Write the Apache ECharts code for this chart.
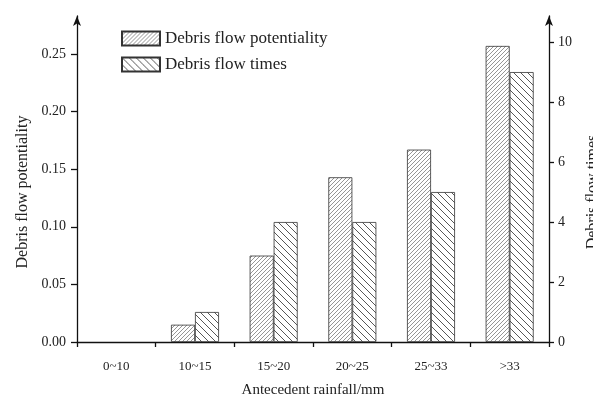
<!DOCTYPE html>
<html>
<head>
<meta charset="utf-8">
<script src="https://cdn.jsdelivr.net/npm/echarts@6/dist/echarts.min.js"></script>
<style>
  html, body { margin: 0; padding: 0; background: #fff; }
  #chart { width: 593px; height: 396px; }
</style>
</head>
<body>
<div id="chart"></div>
<script>
const categories = ['0~10', '10~15', '15~20', '20~25', '25~33', '>33'];
const potentiality = [0, 0.015, 0.075, 0.143, 0.167, 0.257];
const times = [0, 1, 4, 4, 5, 9];
const leftTicks = [0, 0.05, 0.10, 0.15, 0.20, 0.25];
const rightTicks = [0, 2, 4, 6, 8, 10];

function hatch(size, dir, color, width) {
  const c = document.createElement('canvas');
  c.width = size;
  c.height = size;
  const ctx = c.getContext('2d');
  ctx.fillStyle = '#fff';
  ctx.fillRect(0, 0, size, size);
  ctx.strokeStyle = color;
  ctx.lineWidth = width;
  ctx.beginPath();
  for (let k = -1; k <= 1; k++) {
    if (dir === '/') {
      ctx.moveTo(k * size, size);
      ctx.lineTo(k * size + size, 0);
    } else {
      ctx.moveTo(k * size, 0);
      ctx.lineTo(k * size + size, size);
    }
  }
  ctx.stroke();
  return c;
}

// zero-height bars have no visible outline in the original
const noEmpty = arr => arr.map(v => (v === 0 ? { value: v, itemStyle: { borderWidth: 0 } } : v));

const chart = echarts.init(document.getElementById('chart'));
const serif = 'Liberation Serif';
const ink = '#222';

const option = {
  animation: false,
  textStyle: { fontFamily: serif, color: ink },
  grid: { left: 77, right: 44, top: 16, bottom: 54, outerBoundsMode: 'none' },
  legend: {
    left: 121,
    top: 30,
    padding: 0,
    orient: 'vertical',
    icon: 'rect',
    itemWidth: 38,
    itemHeight: 14,
    itemGap: 9,
    textStyle: { fontFamily: serif, fontSize: 17, color: ink },
    data: ['Debris flow potentiality', 'Debris flow times']
  },
  xAxis: {
    type: 'category',
    data: categories,
    name: 'Antecedent rainfall/mm',
    nameLocation: 'middle',
    nameGap: 41,
    nameTextStyle: { fontFamily: serif, fontSize: 15, color: ink },
    axisLine: { lineStyle: { color: '#111', width: 1.3 } },
    axisTick: { show: true, length: 5, lineStyle: { color: '#111', width: 1.3 } },
    axisLabel: { fontFamily: serif, fontSize: 13, color: ink, margin: 18 }
  },
  yAxis: [
    {
      type: 'value',
      min: 0,
      max: 0.283,
      name: 'Debris flow potentiality',
      nameLocation: 'middle',
      nameGap: 45,
      nameTextStyle: { fontFamily: serif, fontSize: 16, color: ink, padding: [0, 26, 0, 0] },
      splitLine: { show: false },
      axisLine: {
        show: true,
        symbol: ['none', 'arrow'],
        symbolSize: [6, 10],
        lineStyle: { color: '#111', width: 1.3 }
      },
      axisTick: { show: true, length: 6, customValues: leftTicks, lineStyle: { color: '#111', width: 1.3 } },
      axisLabel: {
        fontFamily: serif, fontSize: 14, color: ink, margin: 11,
        customValues: leftTicks,
        formatter: v => v.toFixed(2)
      }
    },
    {
      type: 'value',
      min: 0,
      max: 10.87,
      position: 'right',
      name: 'Debris flow times',
      nameLocation: 'middle',
      nameGap: 36,
      nameTextStyle: { fontFamily: serif, fontSize: 16, color: ink, padding: [0, 26, 0, 0] },
      nameRotate: 90,
      splitLine: { show: false },
      axisLine: {
        show: true,
        symbol: ['none', 'arrow'],
        symbolSize: [6, 10],
        lineStyle: { color: '#111', width: 1.3 }
      },
      axisTick: { show: true, length: 5, customValues: rightTicks, lineStyle: { color: '#111', width: 1.3 } },
      axisLabel: { fontFamily: serif, fontSize: 14, color: ink, margin: 9, customValues: rightTicks }
    }
  ],
  series: [
    {
      name: 'Debris flow potentiality',
      type: 'bar',
      yAxisIndex: 0,
      data: noEmpty(potentiality),
      barGap: '0%',
      barCategoryGap: '39%',
      itemStyle: {
        color: { image: hatch(4, '/', '#8a8a8a', 0.9), repeat: 'repeat' },
        borderColor: '#333',
        borderWidth: 0.8
      }
    },
    {
      name: 'Debris flow times',
      type: 'bar',
      yAxisIndex: 1,
      data: noEmpty(times),
      barGap: '0%',
      barCategoryGap: '39%',
      itemStyle: {
        color: { image: hatch(7, '\\', '#444', 0.9), repeat: 'repeat' },
        borderColor: '#333',
        borderWidth: 0.8
      }
    }
  ]
};

chart.setOption(option);
</script>
</body>
</html>
